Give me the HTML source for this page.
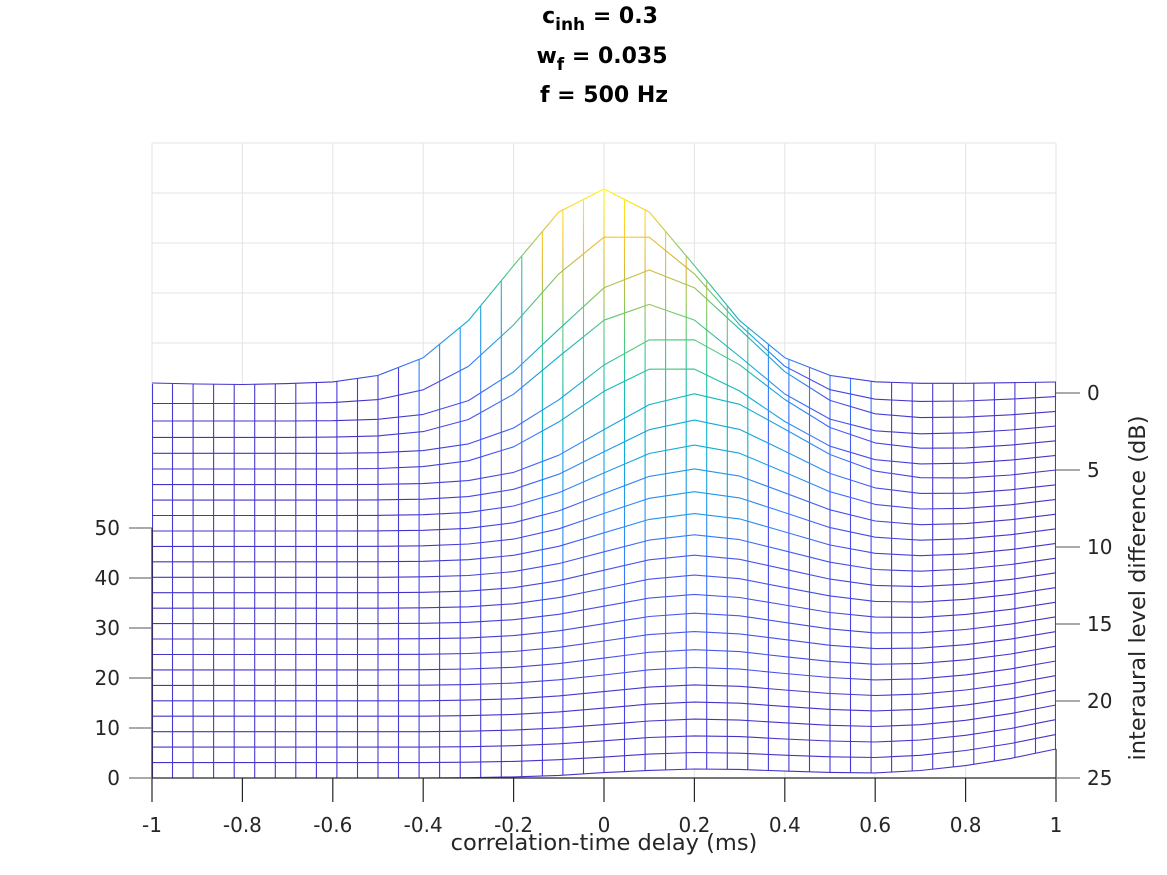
<!DOCTYPE html>
<html><head><meta charset="utf-8"><style>
html,body{margin:0;padding:0;background:#fff;}
svg{display:block;font-family:"DejaVu Sans","Liberation Sans",sans-serif;}
</style></head><body>
<svg width="1167" height="875" viewBox="0 0 1167 875" xmlns="http://www.w3.org/2000/svg">
<defs>
<clipPath id="reg"><polygon id="regp" points="152,384 197.2,384 242.4,384 287.6,383.6 332.8,381.9 378,375.4 423.2,357.7 468.4,320.6 513.6,265.6 558.8,212 604,189 649.2,212 694.4,265.6 739.6,320.6 784.8,357.7 830,375.4 875.2,381.8 920.4,383.3 965.6,383.3 1010.8,382.7 1056,382 1056,749 1010.8,758.4 965.6,765.6 920.4,770.5 875.2,772.9 830,772.4 784.8,771.1 739.6,769.4 694.4,769 649.2,770.4 604,772.6 558.8,775.4 513.6,776.9 468.4,777.7 423.2,778 152,778"/></clipPath>
<linearGradient id="g0"><stop offset=".2" stop-color="#4435c8"/><stop offset=".3" stop-color="#357ffd"/><stop offset=".35" stop-color="#0cb0d0"/><stop offset=".4" stop-color="#52c77e"/><stop offset=".45" stop-color="#fccb30"/><stop offset=".5" stop-color="#f9fb15"/><stop offset=".55" stop-color="#fccb30"/><stop offset=".6" stop-color="#52c77e"/><stop offset=".65" stop-color="#0cb0d0"/><stop offset=".7" stop-color="#357ffd"/><stop offset=".8" stop-color="#4435c8"/></linearGradient>
<linearGradient id="g1"><stop offset=".225" stop-color="#4435c8"/><stop offset=".325" stop-color="#4750ef"/><stop offset=".375" stop-color="#1e9ce5"/><stop offset=".425" stop-color="#52c77e"/><stop offset=".475" stop-color="#dab839"/><stop offset=".525" stop-color="#fccb30"/><stop offset=".575" stop-color="#dab839"/><stop offset=".625" stop-color="#52c77e"/><stop offset=".675" stop-color="#1e9ce5"/><stop offset=".725" stop-color="#4750ef"/><stop offset=".825" stop-color="#4435c8"/></linearGradient>
<linearGradient id="g2"><stop offset=".25" stop-color="#4435c8"/><stop offset=".35" stop-color="#4750ef"/><stop offset=".4" stop-color="#1e9ce5"/><stop offset=".45" stop-color="#19beb0"/><stop offset=".5" stop-color="#9cc453"/><stop offset=".55" stop-color="#dab839"/><stop offset=".6" stop-color="#9cc453"/><stop offset=".65" stop-color="#19beb0"/><stop offset=".7" stop-color="#1e9ce5"/><stop offset=".75" stop-color="#4750ef"/><stop offset=".85" stop-color="#4435c8"/></linearGradient>
<linearGradient id="g3"><stop offset=".25" stop-color="#4435c8"/><stop offset=".35" stop-color="#4750ef"/><stop offset=".4" stop-color="#357ffd"/><stop offset=".45" stop-color="#0cb0d0"/><stop offset=".5" stop-color="#52c77e"/><stop offset=".55" stop-color="#9cc453"/><stop offset=".6" stop-color="#52c77e"/><stop offset=".65" stop-color="#0cb0d0"/><stop offset=".7" stop-color="#357ffd"/><stop offset=".75" stop-color="#4750ef"/><stop offset=".85" stop-color="#4435c8"/></linearGradient>
<linearGradient id="g4"><stop offset=".275" stop-color="#4435c8"/><stop offset=".375" stop-color="#4750ef"/><stop offset=".425" stop-color="#357ffd"/><stop offset=".475" stop-color="#0cb0d0"/><stop offset=".525" stop-color="#52c77e"/><stop offset=".575" stop-color="#52c77e"/><stop offset=".625" stop-color="#52c77e"/><stop offset=".675" stop-color="#0cb0d0"/><stop offset=".725" stop-color="#357ffd"/><stop offset=".775" stop-color="#4750ef"/><stop offset=".875" stop-color="#4435c8"/></linearGradient>
<linearGradient id="g5"><stop offset=".275" stop-color="#4435c8"/><stop offset=".375" stop-color="#4750ef"/><stop offset=".425" stop-color="#357ffd"/><stop offset=".475" stop-color="#0cb0d0"/><stop offset=".525" stop-color="#19beb0"/><stop offset=".575" stop-color="#52c77e"/><stop offset=".625" stop-color="#19beb0"/><stop offset=".675" stop-color="#0cb0d0"/><stop offset=".725" stop-color="#357ffd"/><stop offset=".775" stop-color="#4750ef"/><stop offset=".875" stop-color="#4435c8"/></linearGradient>
<linearGradient id="g6"><stop offset=".3" stop-color="#4435c8"/><stop offset=".4" stop-color="#4750ef"/><stop offset=".45" stop-color="#357ffd"/><stop offset=".5" stop-color="#1e9ce5"/><stop offset=".55" stop-color="#0cb0d0"/><stop offset=".6" stop-color="#19beb0"/><stop offset=".65" stop-color="#0cb0d0"/><stop offset=".7" stop-color="#1e9ce5"/><stop offset=".75" stop-color="#357ffd"/><stop offset=".8" stop-color="#4750ef"/><stop offset=".9" stop-color="#4435c8"/></linearGradient>
<linearGradient id="g7"><stop offset=".3" stop-color="#4435c8"/><stop offset=".4" stop-color="#4750ef"/><stop offset=".45" stop-color="#357ffd"/><stop offset=".5" stop-color="#1e9ce5"/><stop offset=".6" stop-color="#0cb0d0"/><stop offset=".7" stop-color="#1e9ce5"/><stop offset=".75" stop-color="#357ffd"/><stop offset=".8" stop-color="#4750ef"/><stop offset=".9" stop-color="#4435c8"/></linearGradient>
<linearGradient id="g9"><stop offset=".3" stop-color="#4435c8"/><stop offset=".45" stop-color="#4750ef"/><stop offset=".5" stop-color="#357ffd"/><stop offset=".6" stop-color="#1e9ce5"/><stop offset=".7" stop-color="#357ffd"/><stop offset=".75" stop-color="#4750ef"/><stop offset=".9" stop-color="#4435c8"/></linearGradient>
<linearGradient id="g12"><stop offset=".3" stop-color="#4435c8"/><stop offset=".45" stop-color="#4750ef"/><stop offset=".6" stop-color="#357ffd"/><stop offset=".75" stop-color="#4750ef"/><stop offset=".9" stop-color="#4435c8"/></linearGradient>
<linearGradient id="gL"><stop offset=".3" stop-color="#4435c8"/><stop offset=".6" stop-color="#4a5cf0"/><stop offset=".9" stop-color="#4435c8"/></linearGradient>
<linearGradient id="c1" gradientUnits="userSpaceOnUse" x1="0" y1="187" x2="0" y2="778"><stop offset="0" stop-color="#f9fb15"/><stop offset=".073" stop-color="#fccb30"/><stop offset=".14" stop-color="#dab839"/><stop offset=".19" stop-color="#9cc453"/><stop offset=".259" stop-color="#52c77e"/><stop offset=".343" stop-color="#19beb0"/><stop offset=".428" stop-color="#0cb0d0"/><stop offset=".513" stop-color="#1e9ce5"/><stop offset=".631" stop-color="#357ffd"/><stop offset=".783" stop-color="#4750ef"/><stop offset="1" stop-color="#4435dc"/></linearGradient>
<linearGradient id="c2" gradientUnits="userSpaceOnUse" x1="0" y1="250" x2="0" y2="778"><stop offset="0" stop-color="#52c77e"/><stop offset=".13" stop-color="#1e9ce5"/><stop offset=".24" stop-color="#357ffd"/><stop offset=".42" stop-color="#4750ef"/><stop offset="1" stop-color="#4435dc"/></linearGradient>
</defs>
<g stroke="#e3e3e3" stroke-width="1" fill="none">
<line x1="152" y1="143" x2="1056" y2="143"/><line x1="152" y1="193" x2="1056" y2="193"/>
<line x1="152" y1="243" x2="1056" y2="243"/><line x1="152" y1="293" x2="1056" y2="293"/>
<line x1="152" y1="343" x2="1056" y2="343"/>
<line x1="152" y1="143" x2="152" y2="400"/><line x1="242.4" y1="143" x2="242.4" y2="400"/>
<line x1="332.8" y1="143" x2="332.8" y2="400"/><line x1="423.2" y1="143" x2="423.2" y2="400"/>
<line x1="513.6" y1="143" x2="513.6" y2="400"/><line x1="604" y1="143" x2="604" y2="400"/>
<line x1="694.4" y1="143" x2="694.4" y2="400"/><line x1="784.8" y1="143" x2="784.8" y2="400"/>
<line x1="875.2" y1="143" x2="875.2" y2="400"/><line x1="965.6" y1="143" x2="965.6" y2="400"/>
<line x1="1056" y1="143" x2="1056" y2="400"/>
<line x1="694.4" y1="760" x2="694.4" y2="778"/><line x1="784.8" y1="760" x2="784.8" y2="778"/>
<line x1="875.2" y1="760" x2="875.2" y2="778"/><line x1="965.6" y1="760" x2="965.6" y2="778"/>
</g>
<use href="#regp" fill="#fff" stroke="none"/>
<g clip-path="url(#reg)" stroke-width="1.1">
<g stroke="#4838d4">
<line x1="152.5" y1="150" x2="152.5" y2="790"/><line x1="172.5" y1="150" x2="172.5" y2="790"/><line x1="193.1" y1="150" x2="193.1" y2="790"/><line x1="213.6" y1="150" x2="213.6" y2="790"/><line x1="234.2" y1="150" x2="234.2" y2="790"/><line x1="254.7" y1="150" x2="254.7" y2="790"/><line x1="275.3" y1="150" x2="275.3" y2="790"/><line x1="295.8" y1="150" x2="295.8" y2="790"/><line x1="316.4" y1="150" x2="316.4" y2="790"/><line x1="336.9" y1="150" x2="336.9" y2="790"/><line x1="357.5" y1="150" x2="357.5" y2="790"/><line x1="378" y1="150" x2="378" y2="790"/><line x1="398.5" y1="150" x2="398.5" y2="790"/>
<line x1="891.6" y1="150" x2="891.6" y2="790"/><line x1="912.2" y1="150" x2="912.2" y2="790"/><line x1="932.7" y1="150" x2="932.7" y2="790"/><line x1="953.3" y1="150" x2="953.3" y2="790"/><line x1="973.8" y1="150" x2="973.8" y2="790"/><line x1="994.4" y1="150" x2="994.4" y2="790"/><line x1="1014.9" y1="150" x2="1014.9" y2="790"/><line x1="1035.5" y1="150" x2="1035.5" y2="790"/><line x1="1055.5" y1="150" x2="1055.5" y2="790"/>
</g>
<g stroke="url(#c2)">
<line x1="419.1" y1="150" x2="419.1" y2="790"/><line x1="439.6" y1="150" x2="439.6" y2="790"/><line x1="460.2" y1="150" x2="460.2" y2="790"/><line x1="480.7" y1="150" x2="480.7" y2="790"/><line x1="501.3" y1="150" x2="501.3" y2="790"/><line x1="521.8" y1="150" x2="521.8" y2="790"/>
<line x1="768.4" y1="150" x2="768.4" y2="790"/><line x1="788.9" y1="150" x2="788.9" y2="790"/><line x1="809.5" y1="150" x2="809.5" y2="790"/><line x1="830" y1="150" x2="830" y2="790"/><line x1="850.5" y1="150" x2="850.5" y2="790"/><line x1="871.1" y1="150" x2="871.1" y2="790"/>
</g>
<g stroke="url(#c1)">
<line x1="542.4" y1="150" x2="542.4" y2="790"/><line x1="562.9" y1="150" x2="562.9" y2="790"/><line x1="583.5" y1="150" x2="583.5" y2="790"/><line x1="604" y1="150" x2="604" y2="790"/><line x1="624.5" y1="150" x2="624.5" y2="790"/><line x1="645.1" y1="150" x2="645.1" y2="790"/><line x1="665.6" y1="150" x2="665.6" y2="790"/><line x1="686.2" y1="150" x2="686.2" y2="790"/><line x1="706.7" y1="150" x2="706.7" y2="790"/><line x1="727.3" y1="150" x2="727.3" y2="790"/><line x1="747.8" y1="150" x2="747.8" y2="790"/>
</g>
</g>
<g fill="none" stroke-width="1.1" stroke-linejoin="round">
<polyline stroke="#4435c8" points="152,778 197.2,778 242.4,778 287.6,778 332.8,778 378,778 423.2,778 468.4,777.7 513.6,776.9 558.8,775.4 604,772.6 649.2,770.4 694.4,769 739.6,769.4 784.8,771.1 830,772.4 875.2,772.9 920.4,770.5 965.6,765.6 1010.8,758.4 1056,749"/>
<polyline stroke="#4435c8" points="152,762.6 197.2,762.6 242.4,762.6 287.6,762.6 332.8,762.6 378,762.6 423.2,762.6 468.4,762.2 513.6,761.4 558.8,759.7 604,757.1 649.2,754.1 694.4,752.5 739.6,753.2 784.8,755.2 830,756.8 875.2,757.5 920.4,755.3 965.6,750.5 1010.8,743.5 1056,734.4"/>
<polyline stroke="#4435c8" points="152,747.1 197.2,747.1 242.4,747.1 287.6,747.1 332.8,747.1 378,747.1 423.2,747.1 468.4,746.7 513.6,745.7 558.8,743.8 604,740.8 649.2,737.5 694.4,735.9 739.6,736.6 784.8,739 830,741 875.2,742 920.4,740 965.6,735.3 1010.8,728.5 1056,719.6"/>
<polyline stroke="#4435c8" points="152,731.7 197.2,731.7 242.4,731.7 287.6,731.7 332.8,731.7 378,731.7 423.2,731.7 468.4,731.2 513.6,730.1 558.8,727.9 604,724.6 649.2,721 694.4,719.1 739.6,720.1 784.8,722.8 830,725.3 875.2,726.5 920.4,724.7 965.6,720.3 1010.8,713.6 1056,705"/>
<polyline stroke="#4435c8" points="152,716.2 197.2,716.2 242.4,716.2 287.6,716.2 332.8,716.2 378,716.2 423.2,716.2 468.4,715.6 513.6,714.4 558.8,711.9 604,708.1 649.2,704.1 694.4,702.1 739.6,703.2 784.8,706.4 830,709.4 875.2,710.9 920.4,709.3 965.6,705.1 1010.8,698.7 1056,690.2"/>
<polyline stroke="#4537ce" points="152,700.8 197.2,700.8 242.4,700.8 287.6,700.8 332.8,700.8 378,700.8 423.2,700.8 468.4,700.1 513.6,698.8 558.8,695.9 604,691.6 649.2,687.1 694.4,684.9 739.6,686.3 784.8,690 830,693.5 875.2,695.5 920.4,694.1 965.6,690 1010.8,683.8 1056,675.6"/>
<polyline stroke="url(#gL)" points="152,685.4 197.2,685.4 242.4,685.4 287.6,685.4 332.8,685.4 378,685.4 423.2,685.2 468.4,684.6 513.6,683.1 558.8,679.8 604,675 649.2,669.8 694.4,667.4 739.6,669.1 784.8,673.5 830,677.5 875.2,679.9 920.4,678.8 965.6,674.9 1010.8,668.9 1056,661"/>
<polyline stroke="url(#gL)" points="152,669.9 197.2,669.9 242.4,669.9 287.6,669.9 332.8,669.9 378,669.9 423.2,669.7 468.4,669 513.6,667.3 558.8,663.6 604,658.1 649.2,652.3 694.4,649.7 739.6,651.6 784.8,656.7 830,661.4 875.2,664.3 920.4,663.4 965.6,659.8 1010.8,654 1056,646.2"/>
<polyline stroke="url(#gL)" points="152,654.5 197.2,654.5 242.4,654.5 287.6,654.5 332.8,654.5 378,654.5 423.2,654.3 468.4,653.5 513.6,651.5 558.8,647.3 604,641 649.2,634.6 694.4,631.6 739.6,633.9 784.8,639.6 830,645.3 875.2,648.6 920.4,648.1 965.6,644.7 1010.8,639.1 1056,631.6"/>
<polyline stroke="url(#gL)" points="152,639 197.2,639 242.4,639 287.6,639 332.8,639 378,639 423.2,638.7 468.4,637.9 513.6,635.6 558.8,630.8 604,623.7 649.2,616.5 694.4,613.2 739.6,615.8 784.8,622.4 830,628.9 875.2,632.9 920.4,632.7 965.6,629.5 1010.8,624.1 1056,616.8"/>
<polyline stroke="url(#gL)" points="152,623.6 197.2,623.6 242.4,623.6 287.6,623.6 332.8,623.6 378,623.6 423.2,623.3 468.4,622.3 513.6,619.7 558.8,614.3 604,606.2 649.2,598.1 694.4,594.4 739.6,597.5 784.8,605 830,612.5 875.2,617.1 920.4,617.4 965.6,614.4 1010.8,609.3 1056,602.2"/>
<polyline stroke="url(#gL)" points="152,608.2 197.2,608.2 242.4,608.2 287.6,608.2 332.8,608.2 378,608.2 423.2,607.8 468.4,606.8 513.6,603.8 558.8,597.6 604,588.5 649.2,579.2 694.4,575.1 739.6,578.7 784.8,587.4 830,595.9 875.2,601.4 920.4,602.1 965.6,599.3 1010.8,594.4 1056,587.6"/>
<polyline stroke="url(#gL)" points="152,592.7 197.2,592.7 242.4,592.7 287.6,592.7 332.8,592.7 378,592.7 423.2,592.3 468.4,591.1 513.6,587.7 558.8,580.7 604,570.2 649.2,559.8 694.4,555.2 739.6,559.3 784.8,569.2 830,579.1 875.2,585.4 920.4,586.6 965.6,584.1 1010.8,579.4 1056,572.8"/>
<polyline stroke="url(#g12)" points="152,577.3 197.2,577.3 242.4,577.3 287.6,577.3 332.8,577.3 378,577.3 423.2,576.8 468.4,575.5 513.6,571.6 558.8,563.6 604,551.8 649.2,540.1 694.4,534.8 739.6,539.6 784.8,550.8 830,562.2 875.2,569.5 920.4,571.2 965.6,569 1010.8,564.5 1056,558.2"/>
<polyline stroke="url(#g9)" points="152,561.8 197.2,561.8 242.4,561.8 287.6,561.8 332.8,561.8 378,561.7 423.2,561.3 468.4,559.7 513.6,555.3 558.8,546.3 604,532.8 649.2,519.4 694.4,513.6 739.6,518.9 784.8,531.9 830,545 875.2,553.3 920.4,555.7 965.6,553.9 1010.8,549.6 1056,543.4"/>
<polyline stroke="url(#g9)" points="152,546.4 197.2,546.4 242.4,546.4 287.6,546.4 332.8,546.4 378,546.3 423.2,545.8 468.4,544 513.6,539.1 558.8,528.8 604,513.4 649.2,498.3 694.4,491.7 739.6,497.9 784.8,512.6 830,527.6 875.2,537.2 920.4,540.2 965.6,538.7 1010.8,534.7 1056,528.8"/>
<polyline stroke="url(#g9)" points="152,531 197.2,531 242.4,531 287.6,531 332.8,531 378,530.9 423.2,530.3 468.4,528.3 513.6,522.7 558.8,510.9 604,493.5 649.2,476.4 694.4,468.9 739.6,476.1 784.8,492.8 830,509.8 875.2,521 920.4,524.7 965.6,523.6 1010.8,519.7 1056,514.2"/>
<polyline stroke="url(#g7)" points="152,515.5 197.2,515.5 242.4,515.5 287.6,515.5 332.8,515.5 378,515.4 423.2,514.7 468.4,512.4 513.6,506 558.8,492.7 604,472.9 649.2,453.5 694.4,445.1 739.6,453.2 784.8,472.3 830,491.7 875.2,504.4 920.4,509 965.6,508.3 1010.8,504.8 1056,499.4"/>
<polyline stroke="url(#g7)" points="152,500.1 197.2,500.1 242.4,500.1 287.6,500.1 332.8,500.1 378,499.9 423.2,499.2 468.4,496.6 513.6,489.3 558.8,474.2 604,451.7 649.2,429.7 694.4,420.1 739.6,429.4 784.8,451.1 830,473.4 875.2,487.9 920.4,493.4 965.6,493.2 1010.8,489.8 1056,484.8"/>
<polyline stroke="url(#g6)" points="152,484.6 197.2,484.6 242.4,484.6 287.6,484.6 332.8,484.6 378,484.4 423.2,483.6 468.4,480.6 513.6,472.4 558.8,455.2 604,429.6 649.2,404.6 694.4,393.8 739.6,404.3 784.8,429.1 830,454.5 875.2,471.1 920.4,477.7 965.6,477.9 1010.8,475 1056,470"/>
<polyline stroke="url(#g5)" points="152,469 197.2,469 242.4,469 287.6,469 332.8,469 378,468.5 423.2,466.6 468.4,460.8 513.6,446.8 558.8,421.9 604,391.3 649.2,369.2 694.4,369.1 739.6,391 784.8,421.5 830,446.2 875.2,459.7 920.4,463.9 965.6,463.2 1010.8,460.1 1056,455.4"/>
<polyline stroke="url(#g4)" points="152,453.3 197.2,453.3 242.4,453.3 287.6,453.3 332.8,453.3 378,452.7 423.2,450.6 468.4,443.9 513.6,428 558.8,399.8 604,365 649.2,339.9 694.4,339.8 739.6,364.8 784.8,399.5 830,427.5 875.2,442.9 920.4,448.2 965.6,447.9 1010.8,445.1 1056,440.8"/>
<polyline stroke="url(#g3)" points="152,437.4 197.2,437.4 242.4,437.4 287.6,437.4 332.8,437.1 378,435.9 423.2,431.6 468.4,419.5 513.6,394.2 558.8,356.7 604,320.2 649.2,304.4 694.4,320.1 739.6,356.5 784.8,394 830,419.1 875.2,430.8 920.4,433.8 965.6,432.8 1010.8,430 1056,426"/>
<polyline stroke="url(#g2)" points="152,421 197.2,421 242.4,421 287.6,421 332.8,420.7 378,419.3 423.2,414.4 468.4,400.6 513.6,371.9 558.8,329.3 604,287.8 649.2,270 694.4,287.7 739.6,329.2 784.8,371.7 830,400.4 875.2,413.8 920.4,417.6 965.6,417.1 1010.8,414.8 1056,411.4"/>
<polyline stroke="url(#g1)" points="152,403.5 197.2,403.5 242.4,403.5 287.6,403.5 332.8,402.6 378,399.6 423.2,389.8 468.4,366.4 513.6,324.9 558.8,273.9 604,237.2 649.2,237.2 694.4,273.9 739.6,324.8 784.8,366.3 830,389.7 875.2,399.2 920.4,401.4 965.6,401 1010.8,399.1 1056,396.6"/>
<polyline stroke="url(#g0)" points="152,383 197.2,384 242.4,384.5 287.6,383.6 332.8,381.9 378,375.4 423.2,357.7 468.4,320.6 513.6,265.6 558.8,212 604,189 649.2,212 694.4,265.6 739.6,320.6 784.8,357.7 830,375.4 875.2,381.8 920.4,383.3 965.6,383.3 1010.8,382.7 1056,382"/>
</g>
<g stroke="#262626" stroke-width="1.2" fill="none">
<line x1="152" y1="528" x2="152" y2="778"/>
<line x1="152" y1="778" x2="1056" y2="778"/>
<line x1="1056" y1="749" x2="1056" y2="778"/>
<line x1="152" y1="778" x2="152" y2="802"/><line x1="242.4" y1="778" x2="242.4" y2="802"/>
<line x1="332.8" y1="778" x2="332.8" y2="802"/><line x1="423.2" y1="778" x2="423.2" y2="802"/>
<line x1="513.6" y1="778" x2="513.6" y2="802"/><line x1="604" y1="778" x2="604" y2="802"/>
<line x1="694.4" y1="778" x2="694.4" y2="802"/><line x1="784.8" y1="778" x2="784.8" y2="802"/>
<line x1="875.2" y1="778" x2="875.2" y2="802"/><line x1="965.6" y1="778" x2="965.6" y2="802"/>
<line x1="1056" y1="778" x2="1056" y2="802"/>
</g>
<g stroke="#777" stroke-width="1.2">
<line x1="129" y1="528" x2="152" y2="528"/><line x1="129" y1="578" x2="152" y2="578"/>
<line x1="129" y1="628" x2="152" y2="628"/><line x1="129" y1="678" x2="152" y2="678"/>
<line x1="129" y1="728" x2="152" y2="728"/><line x1="129" y1="778" x2="152" y2="778"/>
<line x1="1056" y1="393" x2="1080" y2="393"/><line x1="1056" y1="470" x2="1080" y2="470"/>
<line x1="1056" y1="547" x2="1080" y2="547"/><line x1="1056" y1="624" x2="1080" y2="624"/>
<line x1="1056" y1="701" x2="1080" y2="701"/><line x1="1056" y1="778" x2="1080" y2="778"/>
</g>
<g fill="#262626" font-size="20">
<g text-anchor="end">
<text x="120" y="535">50</text><text x="120" y="585">40</text><text x="120" y="635">30</text>
<text x="120" y="685">20</text><text x="120" y="735">10</text><text x="120" y="785">0</text>
</g>
<g text-anchor="middle">
<text x="152" y="832">-1</text><text x="242.4" y="832">-0.8</text><text x="332.8" y="832">-0.6</text>
<text x="423.2" y="832">-0.4</text><text x="513.6" y="832">-0.2</text><text x="604" y="832">0</text>
<text x="694.4" y="832">0.2</text><text x="784.8" y="832">0.4</text><text x="875.2" y="832">0.6</text>
<text x="965.6" y="832">0.8</text><text x="1056" y="832">1</text>
<text x="604" y="850" font-size="22.5">correlation-time delay (ms)</text>
</g>
<text x="1087" y="400">0</text><text x="1087" y="477">5</text><text x="1087" y="554">10</text>
<text x="1087" y="631">15</text><text x="1087" y="708">20</text><text x="1087" y="785">25</text>
<text transform="translate(1145,588) rotate(-90)" text-anchor="middle" font-size="22.5">interaural level difference (dB)</text>
</g>
<g fill="#000" font-weight="bold" font-size="22" text-anchor="middle">
<text x="600" y="23">c<tspan font-size="17" dy="7">inh</tspan><tspan dy="-7"> = 0.3</tspan></text>
<text x="602" y="63">w<tspan font-size="17" dy="7">f</tspan><tspan dy="-7"> = 0.035</tspan></text>
<text x="604" y="102">f = 500 Hz</text>
</g>
</svg>
</body></html>
